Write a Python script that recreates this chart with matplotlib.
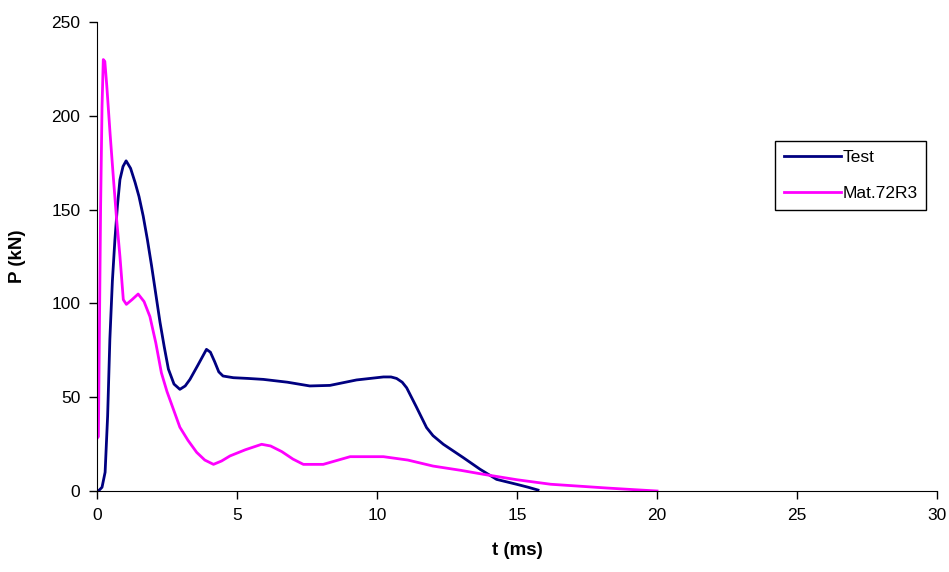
import matplotlib
matplotlib.use('Agg')
import matplotlib.pyplot as plt

plt.rcParams['font.family'] = ['Liberation Sans', 'DejaVu Sans']

# Test curve (t in ms, P in kN)
test_t = [0.0, 0.05, 0.18, 0.29, 0.38, 0.46, 0.55, 0.64, 0.73, 0.82, 0.93, 1.04, 1.2, 1.36, 1.5,
          1.65, 1.8, 1.95, 2.1, 2.25, 2.4, 2.55, 2.75, 2.96, 3.15, 3.32, 3.6, 3.91, 4.05, 4.2, 4.35, 4.5,
          4.87, 5.4, 5.94, 6.8, 7.6, 8.32, 9.27, 10.23, 10.5, 10.7, 10.9, 11.06, 11.4, 11.77, 12.0, 12.37,
          13.08, 13.68, 14.27, 14.98, 15.4, 15.75]
test_p = [0.0, 0.0, 2.0, 10.0, 40.0, 81.0, 112.0, 134.0, 152.0, 166.0, 173.0, 176.0, 172.0, 164.5, 157.0,
          146.6, 134.0, 120.0, 105.0, 90.0, 77.0, 65.0, 57.0, 54.2, 56.0, 59.5, 67.0, 75.5, 74.0, 69.0, 63.5, 61.3,
          60.4, 60.0, 59.5, 58.0, 56.0, 56.3, 59.2, 60.8, 60.8, 60.0, 58.0, 55.0, 45.0, 33.8, 29.5, 24.9,
          17.8, 11.6, 6.2, 3.6, 2.0, 0.5]

# Mat.72R3 curve
mat_t = [0.0, 0.05, 0.13, 0.18, 0.225, 0.28, 0.35, 0.47, 0.59, 0.7, 0.82, 0.94, 1.05, 1.25, 1.47,
         1.68, 1.89, 2.1, 2.3, 2.5, 2.73, 2.96, 3.25, 3.56, 3.85, 4.16, 4.45, 4.75, 5.3, 5.88,
         6.2, 6.6, 7.0, 7.37, 8.08, 8.5, 9.04, 10.23, 11.1, 12.0, 13.0, 13.8, 15.0, 16.2, 17.2, 18.2, 19.2, 20.0]
mat_p = [28.0, 29.0, 152.0, 205.0, 230.0, 229.0, 216.0, 190.0, 166.0, 145.0, 125.0, 102.0, 99.5, 102.0, 105.0,
         101.0, 93.0, 79.0, 63.0, 53.0, 43.5, 34.0, 27.0, 20.6, 16.5, 14.2, 16.0, 18.7, 22.0, 24.9,
         24.0, 21.0, 17.0, 14.2, 14.2, 16.0, 18.3, 18.3, 16.5, 13.3, 11.0, 8.9, 6.0, 3.6, 2.6, 1.6, 0.7, 0.0]

fig = plt.figure(figsize=(9.49, 5.72), dpi=100)
ax = fig.add_axes([0.1022, 0.1416, 0.8852, 0.8199])

ax.plot(test_t, test_p, color='#000080', lw=2, label='Test')
ax.plot(mat_t, mat_p, color='#ff00ff', lw=2, label='Mat.72R3')

ax.set_xlim(0, 30)
ax.set_ylim(0, 250)
ax.set_xticks([0, 5, 10, 15, 20, 25, 30])
ax.set_yticks([0, 50, 100, 150, 200, 250])
ax.spines['top'].set_visible(False)
ax.spines['right'].set_visible(False)
ax.tick_params(direction='out', length=6, width=1, labelsize=12.5, pad=6)
ax.set_xlabel('t (ms)', fontsize=13.5, fontweight='bold', labelpad=14)
ax.set_ylabel('P (kN)', fontsize=13.5, fontweight='bold', labelpad=18)

leg = ax.legend(loc='upper left', bbox_to_anchor=(0.807, 0.746), fontsize=12.5,
                frameon=True, fancybox=False, edgecolor='black', framealpha=1,
                handlelength=3.3, handletextpad=0.1, borderpad=0.5, labelspacing=1.2,
                borderaxespad=0)
leg.get_frame().set_linewidth(1)

fig.savefig('out.png', dpi=100)
